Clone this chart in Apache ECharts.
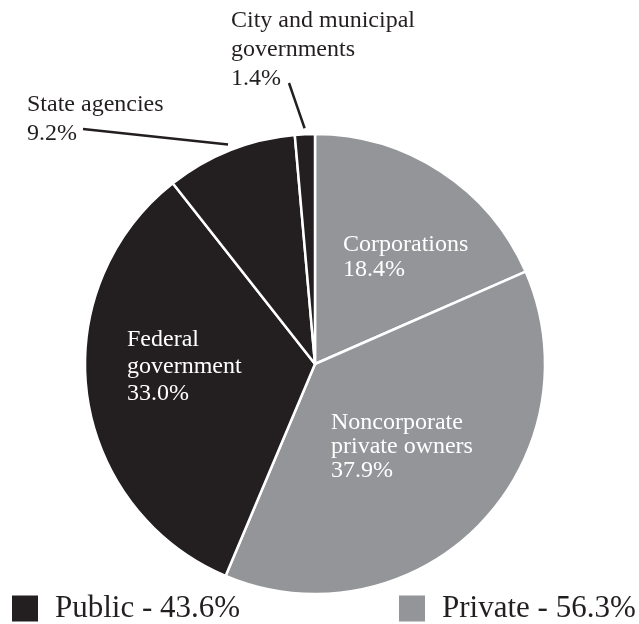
<!DOCTYPE html>
<html><head><meta charset="utf-8">
<script src="https://cdn.jsdelivr.net/npm/echarts@6/dist/echarts.min.js"></script>
<style>html,body{margin:0;padding:0;background:#fff}#c{width:639px;height:624px}</style>
</head><body><div id="c"></div>
<script>
// ---- data ----
const categories = ['Corporations', 'Noncorporate\nprivate owners', 'Federal\ngovernment', 'State agencies', 'City and municipal\ngovernments'];
const shares = [18.4, 37.9, 33.0, 9.2, 1.4];
const ownerGroup = ['Private', 'Private', 'Public', 'Public', 'Public'];
const groupNames = ['Public', 'Private'];

// ---- styling / layout ----
const BLACK = '#231f20', GRAY = '#939598';
const groupColor = { Public: BLACK, Private: GRAY };
const FONT = 'Liberation Serif';
const CX = 315, CY = 364, R = 230;
const labelBox = [[343, 232], [331, 411], [127, 326], [27, 90], [231, 6]];
const labelLineH = [25, 24, 27, 29, 29];
const outsideIdx = { 3: [83, 129], 4: [289, 83] };

const groupTotals = groupNames.map(g => shares.reduce((s, v, i) => s + (ownerGroup[i] === g ? v : 0), 0));
const legendNames = groupNames.map((g, i) => g + ' - ' + groupTotals[i].toFixed(1) + '%');

const total = shares.reduce((a, b) => a + b, 0);
function midAngle(i) {
  let before = 0;
  for (let k = 0; k < i; k++) before += shares[k];
  return (before + shares[i] / 2) / total * 2 * Math.PI; // clockwise from top
}

const pieData = categories.map((name, i) => {
  const outside = outsideIdx[i] !== undefined;
  return {
    name: name, value: shares[i],
    itemStyle: { color: groupColor[ownerGroup[i]] },
    label: { position: outside ? 'outside' : 'inside', color: outside ? BLACK : '#ffffff', lineHeight: labelLineH[i] },
    labelLine: { show: outside, lineStyle: { color: BLACK, width: 2.5 } }
  };
});

const chart = echarts.init(document.getElementById('c'), null, { renderer: 'canvas' });
chart.setOption({
  animation: false,
  legend: [0, 1].map(k => ({
    left: k === 0 ? 7 : 394,
    top: 588,
    itemWidth: 26,
    itemHeight: 26,
    itemGap: 0,
    selectedMode: false,
    icon: 'rect',
    data: [{ name: legendNames[k], itemStyle: { color: groupColor[groupNames[k]] } }],
    textStyle: { fontFamily: FONT, fontSize: 31, color: BLACK, padding: [0, 0, 0, 12] }
  })),
  series: [
    {
      type: 'pie',
      center: [CX, CY],
      radius: R,
      startAngle: 90,
      clockwise: true,
      avoidLabelOverlap: false,
      emphasis: { disabled: true },
      itemStyle: { borderColor: '#ffffff', borderWidth: 2.5 },
      label: {
        fontFamily: FONT, fontSize: 24,
        formatter: p => p.name + '\n' + p.value.toFixed(1) + '%'
      },
      labelLine: { length: 10, length2: 10 },
      labelLayout: function (params) {
        const i = params.dataIndex;
        const box = labelBox[i];
        const res = { x: box[0], y: box[1], align: 'left', verticalAlign: 'top' };
        if (outsideIdx[i]) {
          const a = midAngle(i);
          const sx = CX + (R + 6) * Math.sin(a), sy = CY - (R + 6) * Math.cos(a);
          const e = outsideIdx[i];
          res.labelLinePoints = [[sx, sy], [(sx + e[0]) / 2, (sy + e[1]) / 2], e];
        }
        return res;
      },
      data: pieData
    },
    ...groupNames.map((g, k) => ({
      type: 'pie', name: legendNames[k], data: [], showEmptyCircle: false,
      itemStyle: { color: groupColor[g] }, silent: true
    }))
  ]
});
</script>
</body></html>
